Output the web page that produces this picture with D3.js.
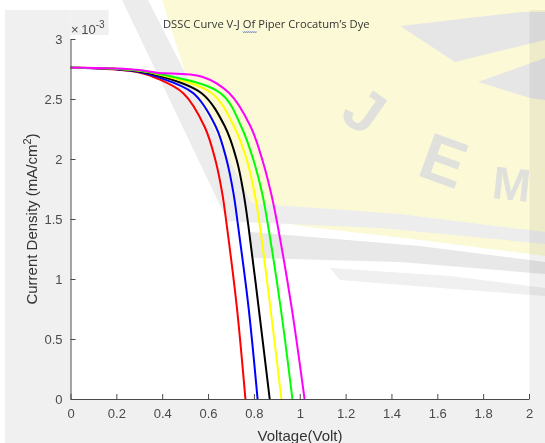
<!DOCTYPE html>
<html><head><meta charset="utf-8">
<script src="https://cdn.jsdelivr.net/npm/d3@7/dist/d3.min.js"></script>
<style>body{margin:0;background:#fff}svg{display:block}</style>
</head><body>
<svg id="c" width="545" height="443"></svg>
<script>
// ---- data (current density in units of 1e-3 mA/cm^2) ----
const seriesNames = ["red","blue","black","yellow","green","magenta"];
const seriesColors = ["#ff0000","#0000ff","#000000","#ffff00","#00ff00","#ff00ff"];
const vRed     = [0, 0.10, 0.20, 0.30, 0.376, 0.492, 0.585, 0.632, 0.662, 0.682, 0.726, 0.763];
const jRed     = [2.76, 2.757, 2.745, 2.72, 2.673, 2.548, 2.269, 1.992, 1.714, 1.442, 0.758, 0];
const vBlue    = [0, 0.10, 0.20, 0.30, 0.376, 0.536, 0.634, 0.681, 0.711, 0.731, 0.777, 0.816];
const jBlue    = [2.76, 2.757, 2.748, 2.725, 2.686, 2.548, 2.269, 1.992, 1.714, 1.442, 0.758, 0];
const vBlack   = [0, 0.10, 0.20, 0.30, 0.376, 0.572, 0.674, 0.725, 0.755, 0.776, 0.821, 0.869];
const jBlack   = [2.76, 2.758, 2.75, 2.73, 2.70, 2.548, 2.269, 1.992, 1.714, 1.442, 0.758, 0];
const vYellow  = [0, 0.10, 0.20, 0.30, 0.376, 0.616, 0.714, 0.769, 0.803, 0.826, 0.872, 0.920];
const jYellow  = [2.76, 2.758, 2.752, 2.735, 2.708, 2.548, 2.269, 1.992, 1.714, 1.442, 0.758, 0];
const vGreen   = [0, 0.10, 0.20, 0.30, 0.376, 0.655, 0.745, 0.798, 0.836, 0.862, 0.917, 0.968];
const jGreen   = [2.76, 2.758, 2.753, 2.738, 2.714, 2.548, 2.269, 1.992, 1.714, 1.442, 0.758, 0];
const vMagenta = [0, 0.10, 0.20, 0.30, 0.376, 0.574, 0.693, 0.786, 0.837, 0.875, 0.904, 0.965, 1.021];
const jMagenta = [2.76, 2.759, 2.755, 2.742, 2.719, 2.686, 2.548, 2.269, 1.992, 1.714, 1.442, 0.758, 0];
const xTicks = [0,0.2,0.4,0.6,0.8,1,1.2,1.4,1.6,1.8,2];
const xTickLabels = ["0","0.2","0.4","0.6","0.8","1","1.2","1.4","1.6","1.8","2"];
const yTicks = [0,0.5,1,1.5,2,2.5,3];
const yTickLabels = ["0","0.5","1","1.5","2","2.5","3"];
const titleText = "DSSC Curve V-J Of Piper Crocatum\u2019s Dye";
const xLabel = "Voltage(Volt)";
const yLabel = "Current Density (mA/cm";

const allV = [vRed,vBlue,vBlack,vYellow,vGreen,vMagenta];
const allJ = [jRed,jBlue,jBlack,jYellow,jGreen,jMagenta];

const svg = d3.select("#c");
const x = d3.scaleLinear().domain([0,2]).range([70.5,529]);
const y = d3.scaleLinear().domain([0,3]).range([399,39]);

// background
svg.append("rect").attr("x",5).attr("y",10).attr("width",540).attr("height",433).attr("fill","#f0f0f0");
svg.append("rect").attr("x",70.5).attr("y",10).attr("width",459).attr("height",389).attr("fill","#ffffff");
svg.append("rect").attr("x",70.5).attr("y",10).attr("width",38).attr("height",25).attr("fill","#f0f0f0");

// watermark (faint)
const wm = svg.append("g").style("mix-blend-mode","multiply");
wm.append("path").attr("d","M162,0 L545,0 L545,256 L420,240 L300,226 L252,214 L210,150 Z").attr("fill","#fcfad6");
wm.append("path").attr("d","M122,0 L148,0 L258,216 L228,222 Z").attr("fill","#ececec");
wm.append("path").attr("d","M235,202 L400,214 L545,232 L545,244 L380,228 L240,222 Z").attr("fill","#ededed");
wm.append("path").attr("d","M250,232 L420,246 L545,262 L545,274 L400,262 L252,258 Z").attr("fill","#e8e8e8");
wm.append("path").attr("d","M330,268 L450,276 L545,288 L545,296 L440,288 L340,280 Z").attr("fill","#f0f0f0");
wm.append("path").attr("d","M400,26 L520,12 L545,12 L545,40 L455,62 Z").attr("fill","#e6e6e6");
wm.append("path").attr("d","M478,82 L545,58 L545,100 L530,98 Z").attr("fill","#e6e6e6");
const wmFont = "Liberation Sans, Arial, sans-serif";
svg.append("text").attr("transform","translate(352,128) rotate(35)").attr("text-anchor","middle")
  .attr("font-family",wmFont).attr("font-weight","bold").attr("font-size",62)
  .attr("fill","#e0e0dc").text("J");
svg.append("text").attr("transform","translate(436,182) rotate(20)").attr("text-anchor","middle")
  .attr("font-family",wmFont).attr("font-weight","bold").attr("font-size",66)
  .attr("fill","#e0e0dc").text("E");
svg.append("text").attr("transform","translate(510,200) rotate(6)").attr("text-anchor","middle")
  .attr("font-family",wmFont).attr("font-weight","bold").attr("font-size",46)
  .attr("fill","#e0e0dc").text("M");

// curves
const line = d3.line().x(d=>x(d[0])).y(d=>y(d[1])).curve(d3.curveCatmullRom.alpha(0.5));
allV.forEach((vs,i)=>{
  const pts = vs.map((v,k)=>[v, allJ[i][k]]);
  svg.append("path").datum(pts).attr("d",line).attr("fill","none")
    .attr("stroke",seriesColors[i]).attr("stroke-width",2);
});

// axes
const axisColor = "#4a4a4a";
const font = "Liberation Sans, Arial, Helvetica, sans-serif";
const gx = svg.append("g").attr("transform","translate(0,399)")
  .call(d3.axisBottom(x).tickValues(xTicks).tickFormat((d,i)=>xTickLabels[i]).tickSizeInner(-5).tickSizeOuter(0).tickPadding(10));
const gy = svg.append("g").attr("transform","translate(70.5,0)")
  .call(d3.axisLeft(y).tickValues(yTicks).tickFormat((d,i)=>yTickLabels[i]).tickSizeInner(-5).tickSizeOuter(0).tickPadding(8));
[gx,gy].forEach(g=>{
  g.select(".domain").attr("stroke",axisColor);
  g.selectAll(".tick line").attr("stroke",axisColor);
  g.selectAll(".tick text").attr("fill",axisColor).attr("font-family",font).attr("font-size",13);
});

// exponent
const ex = svg.append("text").attr("x",71).attr("y",34).attr("font-family",font).attr("fill",axisColor).attr("font-size",13);
ex.append("tspan").text("\u00d7\u200910");
ex.append("tspan").attr("font-size",10).attr("dy",-6).text("-3");

// axis labels
svg.append("text").attr("x",300).attr("y",441).attr("text-anchor","middle").attr("font-family",font)
  .attr("font-size",15).attr("fill","#333").text(xLabel);
const yl = svg.append("text").attr("transform","translate(37,219) rotate(-90)").attr("text-anchor","middle")
  .attr("font-family",font).attr("font-size",15).attr("fill","#333");
yl.append("tspan").text(yLabel);
yl.append("tspan").attr("font-size",11).attr("dy",-6).text("2");
yl.append("tspan").attr("dy",6).text(")");

// title
const tt = svg.append("text").attr("x",163).attr("y",28).attr("font-family","Open Sans, Liberation Sans, sans-serif")
  .attr("font-size",11.2).attr("fill","#333").text(titleText);
const node = tt.node();
const start = node.getSubStringLength(0, titleText.indexOf("Of"));
const w = node.getSubStringLength(titleText.indexOf("Of"), 2);
let d = "M"+(163+start)+",31.5";
for(let px=0; px<w; px+=2){ d += " l1,1.2 l1,-1.2"; }
svg.append("path").attr("d",d).attr("fill","none").attr("stroke","#3355cc").attr("stroke-width",0.7);
</script>
</body></html>
